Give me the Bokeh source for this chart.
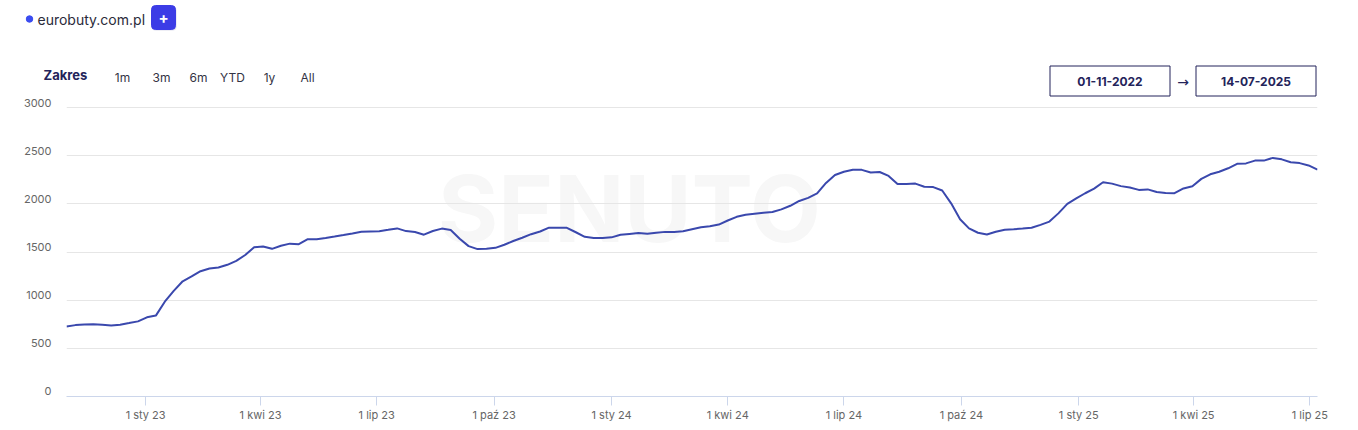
import pandas as pd
from bokeh.plotting import figure
from bokeh.layouts import column
from bokeh.models import Label, FixedTicker, Range1d, LinearAxis
from bokeh.embed import file_html
from bokeh.resources import INLINE

# ---------------- data ----------------
series_name = "eurobuty.com.pl"
week_start = "2022-10-31"
values = [
    727, 741, 748, 750, 744, 738, 746, 762, 780, 822,
    840, 984, 1096, 1196, 1246, 1301, 1329, 1339, 1367, 1408,
    1469, 1550, 1558, 1533, 1565, 1587, 1581, 1633, 1633, 1646,
    1660, 1676, 1693, 1711, 1714, 1716, 1730, 1745, 1717, 1708,
    1680, 1718, 1743, 1728, 1638, 1561, 1530, 1533, 1543, 1575,
    1614, 1648, 1685, 1713, 1753, 1752, 1751, 1705, 1658, 1645,
    1645, 1652, 1679, 1688, 1697, 1690, 1700, 1709, 1707, 1716,
    1737, 1757, 1767, 1785, 1827, 1865, 1886, 1897, 1907, 1915,
    1943, 1980, 2030, 2062, 2108, 2217, 2299, 2333, 2354, 2353,
    2325, 2331, 2290, 2206, 2207, 2210, 2178, 2174, 2138, 2005,
    1840, 1745, 1700, 1682, 1710, 1731, 1736, 1743, 1752, 1782,
    1816, 1901, 2000, 2056, 2110, 2158, 2224, 2210, 2184, 2169,
    2145, 2150, 2123, 2112, 2111, 2160, 2183, 2259, 2307, 2333,
    2369, 2415, 2420, 2449, 2449, 2477, 2462, 2432, 2423, 2399,
    2356,
]
x_tick_dates = ["2023-01-01", "2023-04-01", "2023-07-01", "2023-10-01",
                "2024-01-01", "2024-04-01", "2024-07-01", "2024-10-01",
                "2025-01-01", "2025-04-01", "2025-07-01"]
x_tick_labels = ["1 sty 23", "1 kwi 23", "1 lip 23", "1 paź 23",
                 "1 sty 24", "1 kwi 24", "1 lip 24", "1 paź 24",
                 "1 sty 25", "1 kwi 25", "1 lip 25"]
y_ticks = [0, 500, 1000, 1500, 2000, 2500, 3000]
range_buttons = ["1m", "3m", "6m", "YTD", "1y", "All"]
date_from = "01-11-2022"
date_to = "14-07-2025"

dates = list(pd.date_range(week_start, periods=len(values), freq="7D").to_pydatetime())

FONT = "Inter"
LINE = "#3a48ad"
NAVY = "#23235a"
W = 1358

# ---------------- header (pixel space) ----------------
hdr = figure(width=W, height=97, x_range=Range1d(0, W), y_range=Range1d(97, 0),
             output_backend="svg", toolbar_location=None,
             x_axis_location=None, y_axis_location=None, frame_align=False,
             min_border_left=0, min_border_right=0, min_border_top=0, min_border_bottom=0)
hdr.outline_line_color = None
hdr.grid.visible = False
hdr.background_fill_color = "white"
hdr.border_fill_color = "white"

# legend entry
hdr.scatter([29], [18.5], size=6.5, color="#3b4cf0")
hdr.add_layout(Label(x=37, y=18.5, text=series_name, text_font=FONT,
                     text_font_size="14px", text_color="#2a2a3a",
                     text_align="left", text_baseline="middle"))
# "+" button (soft shadow + rounded square)
hdr.quad(left=[151], right=[176], top=[6], bottom=[30], fill_color="#c8c8e0",
         line_color=None, fill_alpha=0.6, border_radius=4)
hdr.quad(left=[151], right=[175], top=[5], bottom=[29], fill_color="#3c3ce6",
         line_color="#3c3ce6", border_radius=4)
hdr.add_layout(Label(x=163, y=17, text="+", text_font=FONT, text_font_size="15px",
                     text_font_style="bold", text_color="white",
                     text_align="center", text_baseline="middle"))
# range selector
hdr.add_layout(Label(x=43, y=74.5, text="Zakres", text_font=FONT, text_font_size="13px",
                     text_font_style="bold", text_color=NAVY,
                     text_align="left", text_baseline="middle"))
btn_x = [122, 161, 198, 232, 269, 307]
for bx, lab in zip(btn_x, range_buttons):
    hdr.add_layout(Label(x=bx, y=77, text=lab, text_font=FONT, text_font_size="12px",
                         text_color="#333344", text_align="center", text_baseline="middle"))
# date boxes
for (l, r), lab in zip([(1049.5, 1169.5), (1195.5, 1315.5)], [date_from, date_to]):
    hdr.quad(left=[l], right=[r], top=[65.5], bottom=[95.5], fill_color="white",
             line_color=NAVY, line_width=1)
    hdr.add_layout(Label(x=(l + r) / 2, y=80.5, text=lab, text_font=FONT,
                         text_font_size="12px", text_font_style="bold", text_color=NAVY,
                         text_align="center", text_baseline="middle"))
hdr.add_layout(Label(x=1182.5, y=81.5, text="→", text_font="DejaVu Sans",
                     text_font_size="14px", text_color=NAVY,
                     text_align="center", text_baseline="middle"))

# ---------------- main chart ----------------
p = figure(width=W, height=333, x_axis_type="datetime",
           x_range=Range1d(dates[0], dates[-1]), y_range=Range1d(0, 3104),
           output_backend="svg", toolbar_location=None, frame_align=False,
           min_border_left=66, min_border_right=41, min_border_top=0,
           min_border_bottom=34)
p.outline_line_color = None
p.background_fill_color = "white"
p.border_fill_color = "white"

p.xgrid.visible = False
p.ygrid.ticker = FixedTicker(ticks=y_ticks)
p.ygrid.grid_line_color = "#e6e6e6"
p.ygrid.grid_line_width = 1

# y labels sit ~5px above their grid lines: use a label axis on a shifted range
p.yaxis.visible = False
p.extra_y_ranges = {"labels": Range1d(-52, 3104 - 52)}
yax = LinearAxis(y_range_name="labels", ticker=FixedTicker(ticks=y_ticks))
yax.axis_line_color = None
yax.major_tick_line_color = None
yax.minor_tick_line_color = None
yax.major_tick_out = 0
yax.major_label_standoff = 15
yax.major_label_text_font = FONT
yax.major_label_text_font_size = "11px"
yax.major_label_text_color = "#666666"
p.add_layout(yax, "left")

tick_ms = [int(pd.Timestamp(d).value // 10**6) for d in x_tick_dates]
p.xaxis.ticker = FixedTicker(ticks=tick_ms)
p.xaxis.major_label_overrides = {t: lab for t, lab in zip(tick_ms, x_tick_labels)}
p.xaxis.axis_line_color = "#ccd6eb"
p.xaxis.major_tick_line_color = "#ccd6eb"
p.xaxis.major_tick_out = 9
p.xaxis.major_tick_in = 0
p.xaxis.minor_tick_out = 0
p.xaxis.minor_tick_in = 0
p.xaxis.major_label_standoff = 2
p.xaxis.major_label_text_font = FONT
p.xaxis.major_label_text_font_size = "11px"
p.xaxis.major_label_text_color = "#666666"

# watermark
p.add_layout(Label(x=dates[0], y=3000, x_offset=563, y_offset=-101, text="SENUTO",
                   text_font=FONT, text_font_size="92px", text_font_style="bold",
                   text_color="#f7f7f7", text_align="center", text_baseline="middle",
                   level="image"))

p.line(dates, values, line_color=LINE, line_width=2)

open("out.html", "w").write(file_html(column(hdr, p, spacing=0), INLINE))
